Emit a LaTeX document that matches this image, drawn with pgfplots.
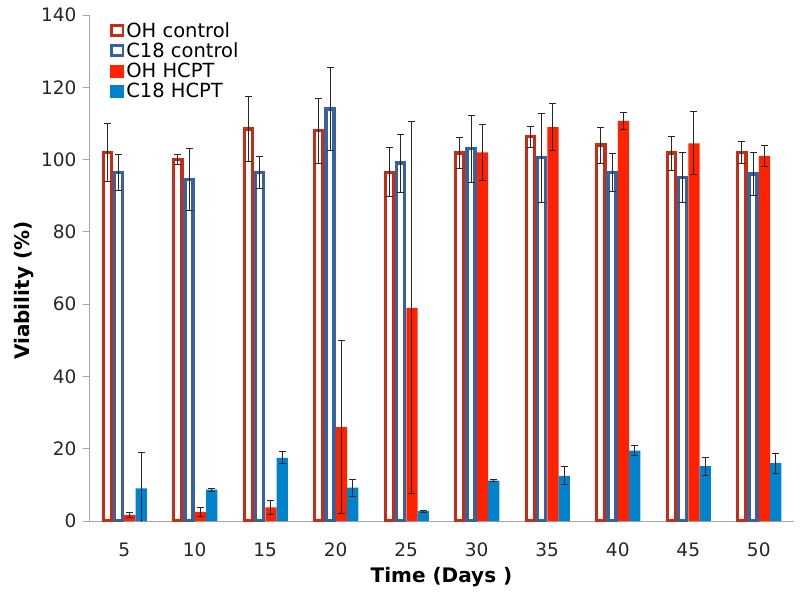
\documentclass[border=0pt]{standalone}
\usepackage{fontspec}
\setmainfont{DejaVu Sans}
\usepackage{pgfplots}
\usepackage{pgfplotstable}
\pgfplotsset{compat=1.18}

\definecolor{ohctrl}{RGB}{199,44,22}
\definecolor{cctrl}{RGB}{52,99,160}
\definecolor{ohhcpt}{RGB}{255,34,0}
\definecolor{chcpt}{RGB}{0,130,204}
\definecolor{axgray}{RGB}{165,165,165}

% x = index of day (5,10,...,50), y = viability, e = error
\pgfplotstableread{
x y e
0 102.0 8.0
1 100.0 1.3
2 108.5 9.0
3 108.0 9.0
4 96.5 6.8
5 101.8 4.3
6 106.3 3.0
7 104.0 5.0
8 101.8 4.7
9 102.0 3.1
}\ohcontrol
\pgfplotstableread{
x y e
0 96.5 5.0
1 94.5 8.5
2 96.5 4.5
3 114.0 11.5
4 99.0 8.0
5 103.0 9.3
6 100.5 12.3
7 96.4 5.2
8 95.0 6.9
9 96.0 6.0
}\ccontrol
\pgfplotstableread{
x y e
0 1.7 0.8
1 2.5 1.2
2 3.8 2.0
3 26.0 24.0
4 59.0 51.5
5 102.0 7.8
6 109.0 6.6
7 110.7 2.4
8 104.5 8.7
9 101.0 3.0
}\ohhcpt
\pgfplotstableread{
x y e
0 9.0 10.0
1 8.7 0.4
2 17.5 1.7
3 9.2 2.3
4 2.7 0.3
5 11.2 0.3
6 12.5 2.5
7 19.5 1.3
8 15.2 2.5
9 16.0 2.8
}\chcpt

\begin{document}
\begin{tikzpicture}
\begin{axis}[
  scale only axis,
  width=705bp, height=506bp,
  ybar=0pt,
  xmin=-0.5, xmax=9.5,
  ymin=0, ymax=140,
  ytick={0,20,...,140},
  xtick={0,...,9},
  xticklabels={5,10,15,20,25,30,35,40,45,50},
  axis lines=left,
  axis line style={draw=axgray, line width=0.8bp, -},
  x axis line style={-},
  y axis line style={-},
  xtick style={draw=none},
  ytick style={draw=axgray, line width=0.8bp},
  tick align=outside,
  major tick length=6bp,
  /pgf/number format/assume math mode=true,
  tick label style={font=\fontsize{18.5bp}{22bp}\selectfont, text=black!85},
  yticklabel style={xshift=-3bp},
  xticklabel style={yshift=-12bp},
  xlabel={\bfseries Time (Days )},
  ylabel={\bfseries Viability (\%)},
  label style={font=\fontsize{20bp}{24bp}\selectfont},
  xlabel style={yshift=-4bp},
  ylabel style={at={(ticklabel cs:0.455)}, yshift=1bp},
  legend style={at={(0.03,0.99)}, anchor=north west, draw=none, fill=none,
    font=\fontsize{19.5bp}{20bp}\selectfont, row sep=0.2bp,
    inner sep=0pt, cells={anchor=west}},
  legend cell align=left,
  error bars/y dir=both,
  error bars/y explicit,
  error bars/error mark=-,
  error bars/error bar style={line width=0.9bp, black!85},
  error bars/error mark options={rotate=90, line width=0.9bp, black!85, mark size=3.5bp},
]
\addplot[draw=ohctrl, fill=white, line width=3.4bp, bar width=0.115, bar shift=-0.24,
  legend image code/.code={\draw[draw=ohctrl, fill=white, line width=2.8bp] (1.4bp,-5bp) rectangle (12.6bp,5.2bp);}]
  table[x=x, y=y, y error=e] {\ohcontrol};
\addplot[draw=cctrl, fill=white, line width=3.4bp, bar width=0.115, bar shift=-0.08,
  legend image code/.code={\draw[draw=cctrl, fill=white, line width=2.8bp] (1.4bp,-5bp) rectangle (12.6bp,5.2bp);}]
  table[x=x, y=y, y error=e] {\ccontrol};
\addplot[draw=none, fill=ohhcpt, bar width=0.16, bar shift=0.08,
  legend image code/.code={\fill[ohhcpt] (0bp,-6.4bp) rectangle (14bp,6.6bp);}]
  table[x=x, y=y, y error=e] {\ohhcpt};
\addplot[draw=none, fill=chcpt, bar width=0.16, bar shift=0.24,
  legend image code/.code={\fill[chcpt] (0bp,-6.4bp) rectangle (14bp,6.6bp);}]
  table[x=x, y=y, y error=e] {\chcpt};
\legend{OH control, C18 control, OH HCPT, C18 HCPT}
\end{axis}
\pgfresetboundingbox
\useasboundingbox (-89bp,-78bp) rectangle (711bp,521bp);
\end{tikzpicture}
\end{document}
